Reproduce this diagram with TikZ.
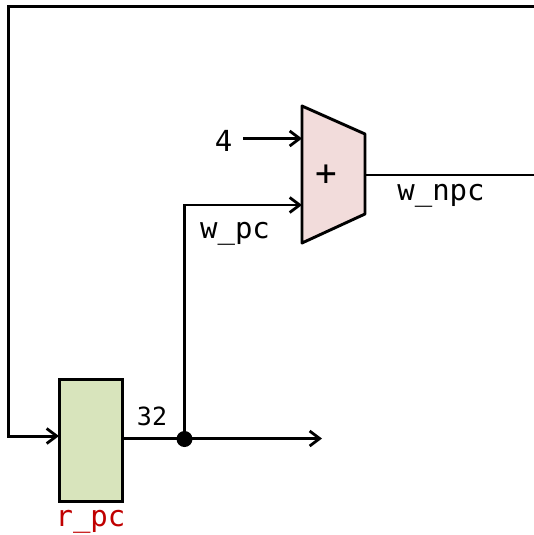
\documentclass[tikz,border=0pt]{standalone}
\usepackage{xcolor}
\usepackage{fontspec}
\setmainfont{DejaVu Sans Mono}
\usepackage{tikz}
\usetikzlibrary{arrows.meta}
\definecolor{regfill}{HTML}{D8E4BC}
\definecolor{addfill}{HTML}{F2DCDB}
\definecolor{regred}{HTML}{C00000}

\begin{document}
\begin{tikzpicture}[x=1pt,y=-1pt,>={Straight Barb[length=10pt,width=15pt,line width=2.8pt]},
   wire/.style={line width=2.8pt},
   lbl/.style={inner sep=0pt,font=\fontsize{29}{29}\selectfont},
   reg/.style={draw,line width=3pt,fill=regfill,minimum width=63pt,minimum height=122pt,inner sep=0pt}]
  \useasboundingbox (0,0) rectangle (534,535);
  % adder body
  \draw[line width=2.9pt,fill=addfill,line join=round] (302,106) -- (365,134) -- (365,214) -- (302,243) -- cycle;
  \node[reg] (pc) at (90.5,440) {};
  \node[lbl,text=regred] (rpc) at (90.5,522) {r\_pc};
  \node[lbl,font=\fontsize{36}{36}\selectfont] (plus) at (326,175) {+};
  \node[lbl] (four) at (223.5,141) {4};
  \node[lbl] (wpc) at (235,233.5) {w\_pc};
  \node[lbl] (wnpc) at (441,195.5) {w\_npc};
  \node[lbl,font=\fontsize{25}{25}\selectfont] (width) at (152,416) {32};
  \node[circle,fill=black,inner sep=0pt,minimum size=16pt] (dot) at (184.5,439) {};
  \coordinate (a1) at (302,138.5);
  \coordinate (a2) at (302,205);
  \coordinate (aout) at (365,174.5);
  \coordinate (pcin) at (59,436);
  \coordinate (pcout) at (122,438.5);
  \coordinate (next) at (322,438.5);
  \coordinate (fb) at (534,6.5);
  \coordinate (np) at (534,174.5);
  \draw[wire,->] (pcout) -- (next);
  \draw[wire,->] (dot.center) -- (184.5,205) -- (a2);
  \draw[wire,->] (243,138.5) -- (a1);
  \draw[line width=2pt] (aout) -- (np);
  \draw[line width=3pt,->] (fb) -- (8,6.5) -- (8,436) -- (pcin);
\end{tikzpicture}
\end{document}
